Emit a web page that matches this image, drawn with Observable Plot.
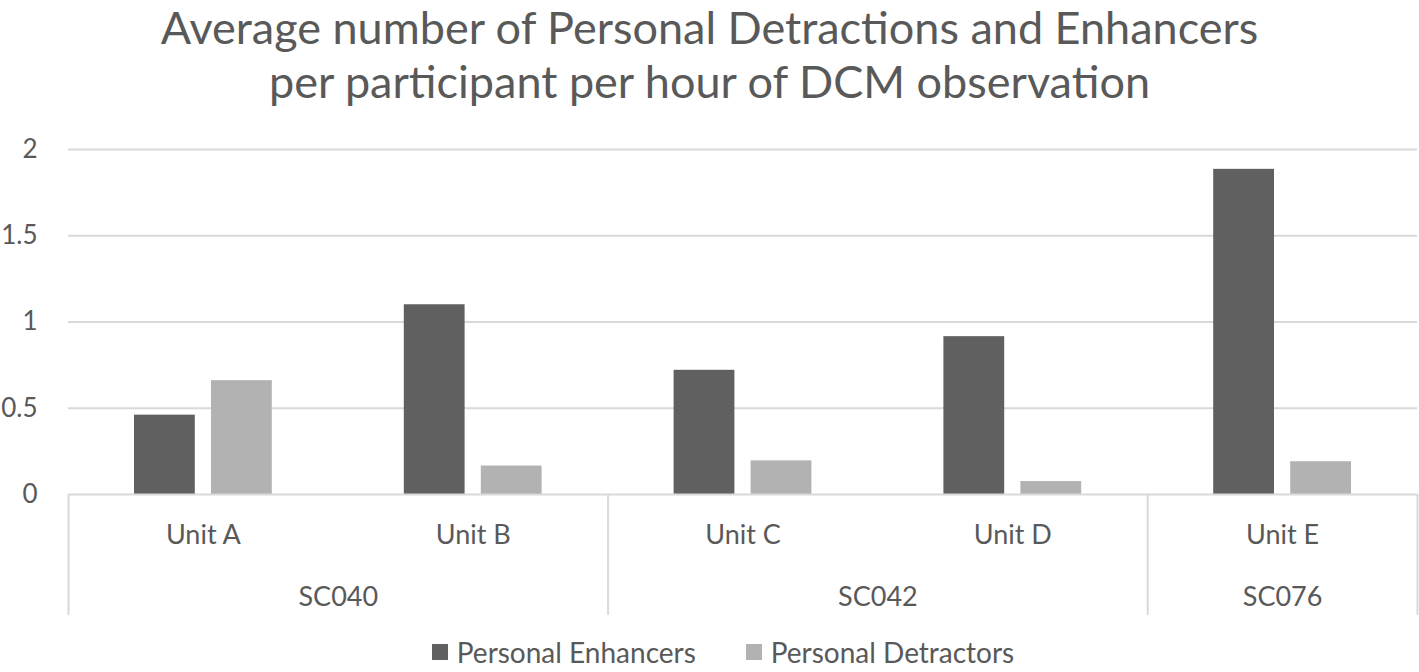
<!DOCTYPE html>
<html>
<head>
<meta charset="utf-8">
<script src="https://cdn.jsdelivr.net/npm/d3@7"></script>
<script src="https://cdn.jsdelivr.net/npm/@observablehq/plot@0.6"></script>
<style>
  html, body { margin: 0; padding: 0; background: #fff; }
  body { width: 1419px; height: 672px; overflow: hidden; position: relative;
         font-family: Lato, "Open Sans", sans-serif; color: #595959; }
  .tline { position: absolute; left: 0; width: 1419px; text-align: center;
           font-size: 45px; line-height: 54px; white-space: nowrap; }
  #chart { position: absolute; top: 120px; left: 0; }
  #legend { position: absolute; top: 635px; left: 0; width: 1419px; display: flex;
            justify-content: center; padding-left: 27px; box-sizing: border-box;
            font-size: 28px; line-height: 34px; }
  .item { display: flex; align-items: center; }
  .item + .item { margin-left: 50px; }
  .sw { width: 16px; height: 16px; margin-right: 9px; }
</style>
</head>
<body>
<div class="tline" style="top:0px">Average number of Personal Detractions and Enhancers</div>
<div class="tline" style="top:54px">per participant per hour of DCM observation</div>
<div id="chart"></div>
<div id="legend"></div>
<script>
const units = ["Unit A", "Unit B", "Unit C", "Unit D", "Unit E"];
const sites = ["SC040", "SC040", "SC042", "SC042", "SC076"];
const enhancers = [0.46, 1.10, 0.72, 0.915, 1.885];
const detractors = [0.66, 0.165, 0.195, 0.075, 0.19];
const yTicks = [0, 0.5, 1, 1.5, 2];
const yTickLabels = ["0", "0.5", "1", "1.5", "2"];
const seriesNames = ["Personal Enhancers", "Personal Detractors"];
const seriesColors = ["#606060", "#b2b2b2"];

const enhRows = units.map((u, i) => ({i, unit: u, value: enhancers[i]}));
const detRows = units.map((u, i) => ({i, unit: u, value: detractors[i]}));

// group extents (start/end index) for the second-level category axis
const groups = [];
sites.forEach((s, i) => {
  const last = groups[groups.length - 1];
  if (last && last.name === s) last.end = i + 1;
  else groups.push({name: s, start: i, end: i + 1});
});
const boundaries = [...groups.map(g => g.start), groups[groups.length - 1].end];

const grid = "#d9d9d9";
const chart = Plot.plot({
  width: 1419,
  height: 520,
  marginTop: 29,
  marginBottom: 146,
  marginLeft: 68,
  marginRight: 2,
  style: {fontFamily: "Lato, 'Open Sans', sans-serif", color: "#595959", background: "#fff"},
  x: {domain: [0, units.length], axis: null},
  y: {domain: [0, 2]},
  marks: [
    Plot.ruleY(yTicks.filter(d => d > 0), {stroke: grid, strokeWidth: 2}),
    Plot.axisY({ticks: yTicks, tickFormat: d => yTickLabels[yTicks.indexOf(d)], tickSize: 0, tickPadding: 31, fontSize: 26, fill: "#595959", label: null}),
    Plot.rectY(enhRows, {x: "i", interval: 1, y: "value", fill: seriesColors[0], insetLeft: 66, insetRight: 143}),
    Plot.rectY(detRows, {x: "i", interval: 1, y: "value", fill: seriesColors[1], insetLeft: 143, insetRight: 66}),
    Plot.ruleY([0], {stroke: grid, strokeWidth: 2}),
    Plot.ruleX(boundaries, {x: d => d, y1: 0, y2: 0, insetBottom: -121, stroke: grid, strokeWidth: 2}),
    Plot.text(units, {x: (d, i) => i + 0.5, y: 0, dy: 41, text: d => d, fontSize: 27, fill: "#595959"}),
    Plot.text(groups, {x: g => (g.start + g.end) / 2, y: 0, dy: 103, text: "name", fontSize: 27, fill: "#595959"})
  ]
});
document.getElementById("chart").append(chart);

const legend = document.getElementById("legend");
seriesNames.forEach((n, k) => {
  const item = document.createElement("div");
  item.className = "item";
  const sw = document.createElement("span");
  sw.className = "sw";
  sw.style.background = seriesColors[k];
  const t = document.createElement("span");
  t.textContent = n;
  item.append(sw, t);
  legend.append(item);
});
</script>
</body>
</html>
